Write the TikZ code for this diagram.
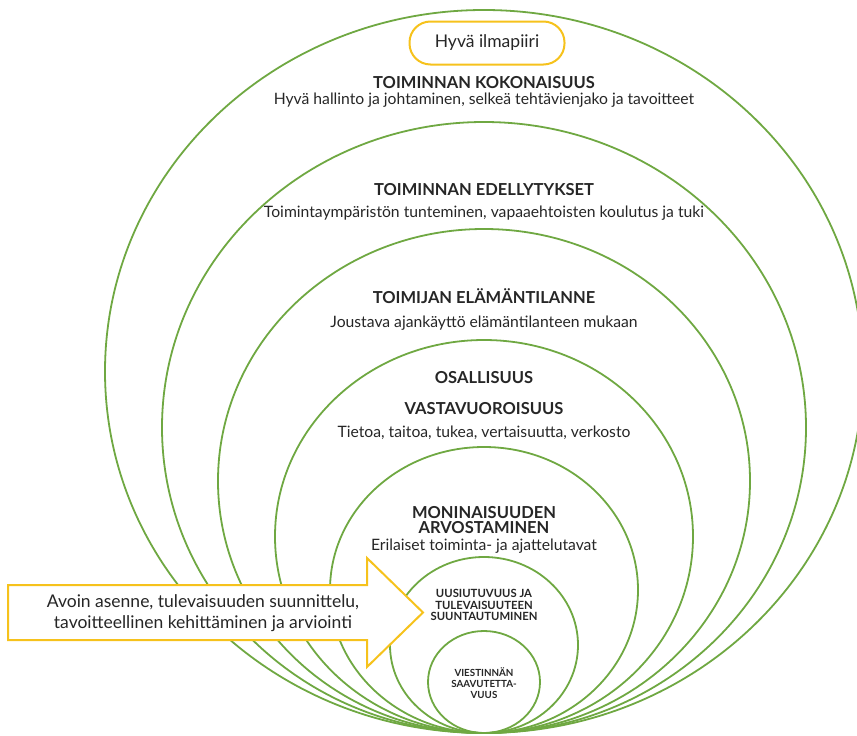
\documentclass[tikz,border=0pt]{standalone}
\usepackage{fontspec}
\setmainfont{Lato}
\usetikzlibrary{positioning}
\definecolor{ringgreen}{HTML}{6FA842}
\definecolor{ideagold}{HTML}{F6C21C}
\definecolor{inktext}{HTML}{262626}
\tikzset{
  ring/.style={draw=ringgreen, line width=1.8pt},
  goldline/.style={draw=ideagold, line width=2pt, fill=white},
  head/.style={anchor=base, inner sep=0, text=inktext, font=\fontsize{16.5}{19}\selectfont\bfseries},
  sub/.style={anchor=base, inner sep=0, text=inktext, font=\fontsize{15.7}{18}\selectfont},
  minihead/.style={anchor=base, inner sep=0, text=inktext, font=\fontsize{11.3}{13}\selectfont\bfseries},
  tinyhead/.style={anchor=base, inner sep=0, text=inktext, font=\fontsize{9.8}{11}\selectfont\bfseries},
  arrowtext/.style={anchor=base, inner sep=0, text=inktext, font=\fontsize{17.5}{20}\selectfont}
}
\begin{document}
\begin{tikzpicture}[x=1pt, y=-1pt]
  \useasboundingbox (0,0) rectangle (857,736);
  % nested rings, all touching at the bottom
  \draw[ring] (484,371.5) ellipse [x radius=379, y radius=361.5];
  \draw[ring] (484,427.5) ellipse [x radius=322, y radius=305.5];
  \draw[ring] (484,481) ellipse [x radius=266, y radius=252];
  \draw[ring] (484,536.5) ellipse [x radius=209, y radius=196.5];
  \draw[ring] (484,590) ellipse [x radius=154, y radius=143];
  \draw[ring] (484,645) ellipse [x radius=94, y radius=88];
  \draw[ring] (484,682) ellipse [x radius=56, y radius=51];

  % big arrow from the left
  \coordinate (shafttop) at (8,585);
  \coordinate (shaftbot) at (8,640);
  \coordinate (tip) at (423,612.5);
  \draw[goldline] (shafttop) -- (367,585) -- (367,558) -- (tip) -- (367,667) -- (367,640) -- (shaftbot) -- cycle;
  \node[arrowtext] (arrowone) at (203,607) {Avoin asenne, tulevaisuuden suunnittelu,};
  \node[arrowtext] (arrowtwo) at (203,628) {tavoitteellinen kehittäminen ja arviointi};

  \node[draw=ideagold, line width=2pt, rounded corners=21pt, minimum width=155pt, minimum height=43pt,
        text=inktext, font=\fontsize{17.5}{20}\selectfont] (ilmapiiri) at (487,43) {Hyvä ilmapiiri};

  \node[head] (kokonaisuus) at (484,88) {TOIMINNAN KOKONAISUUS};
  \node[sub] (hallinto) at (484,104) {Hyvä hallinto ja johtaminen, selkeä tehtävienjako ja tavoitteet};
  \node[head] (edellytykset) at (484,195) {TOIMINNAN EDELLYTYKSET};
  \node[sub] (tunteminen) at (484,217) {Toimintaympäristön tunteminen, vapaaehtoisten koulutus ja tuki};
  \node[head] (elamantilanne) at (484,303) {TOIMIJAN ELÄMÄNTILANNE};
  \node[sub] (ajankaytto) at (484,327) {Joustava ajankäyttö elämäntilanteen mukaan};
  \node[head] (osallisuus) at (484,383) {OSALLISUUS};
  \node[head] (vastavuoroisuus) at (484,414) {VASTAVUOROISUUS};
  \node[sub] (tietoa) at (484,437) {Tietoa, taitoa, tukea, vertaisuutta, verkosto};
  \node[head] (moninaisuus) at (484,518) {MONINAISUUDEN};
  \node[head] (arvostaminen) at (484,533) {ARVOSTAMINEN};
  \node[sub] (erilaiset) at (484,550) {Erilaiset toiminta- ja ajattelutavat};
  \node[minihead] (uusiutuvuus) at (484,597) {UUSIUTUVUUS JA};
  \node[minihead] (tulevaisuus) at (484,609) {TULEVAISUUTEEN};
  \node[minihead] (suuntautuminen) at (484,620) {SUUNTAUTUMINEN};
  \node[tinyhead] (viestinta) at (484,676) {VIESTINNÄN};
  \node[tinyhead] (saavutettavuus) at (484,687) {SAAVUTETTA-};
  \node[tinyhead] (vuus) at (484,698) {VUUS};
\end{tikzpicture}
\end{document}
